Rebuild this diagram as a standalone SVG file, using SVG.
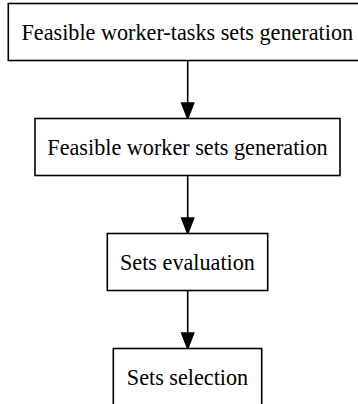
<svg xmlns="http://www.w3.org/2000/svg" width="358" height="404" viewBox="0 0 358 404">
<style>
.box{fill:#fff;stroke:#000;stroke-width:1.6}
.lbl{font-family:"Liberation Serif","Times New Roman",serif;font-size:22.2px;fill:#000;text-anchor:middle}
.edge{stroke:#000;stroke-width:1.6;fill:none}
.head{fill:#000;stroke:#000;stroke-width:1.6}
</style>
<rect x="0" y="0" width="358" height="404" fill="#fff"/>
<g id="connectors">
<g id="e1"><line class="edge" x1="187.7" y1="60.5" x2="187.7" y2="103"/><polygon class="head" points="181.7,103 193.7,103 187.7,118.5"/></g>
<g id="e2"><line class="edge" x1="187.7" y1="175.5" x2="187.7" y2="218"/><polygon class="head" points="181.7,218 193.7,218 187.7,233.5"/></g>
<g id="e3"><line class="edge" x1="187.7" y1="290.5" x2="187.7" y2="333"/><polygon class="head" points="181.7,333 193.7,333 187.7,348.5"/></g>
</g>
<g id="n1"><rect class="box" x="8.3" y="3.5" width="362" height="57"/><text class="lbl" x="187.3" y="39.5">Feasible worker-tasks sets generation</text></g>
<g id="n2"><rect class="box" x="35" y="118.5" width="305" height="57"/><text class="lbl" x="187.5" y="154.5">Feasible worker sets generation</text></g>
<g id="n3"><rect class="box" x="107.3" y="233.5" width="160.4" height="57"/><text class="lbl" x="187.5" y="269.5">Sets evaluation</text></g>
<g id="n4"><rect class="box" x="113.3" y="348.5" width="148.4" height="60"/><text class="lbl" x="187.5" y="384.5">Sets selection</text></g>
</svg>
